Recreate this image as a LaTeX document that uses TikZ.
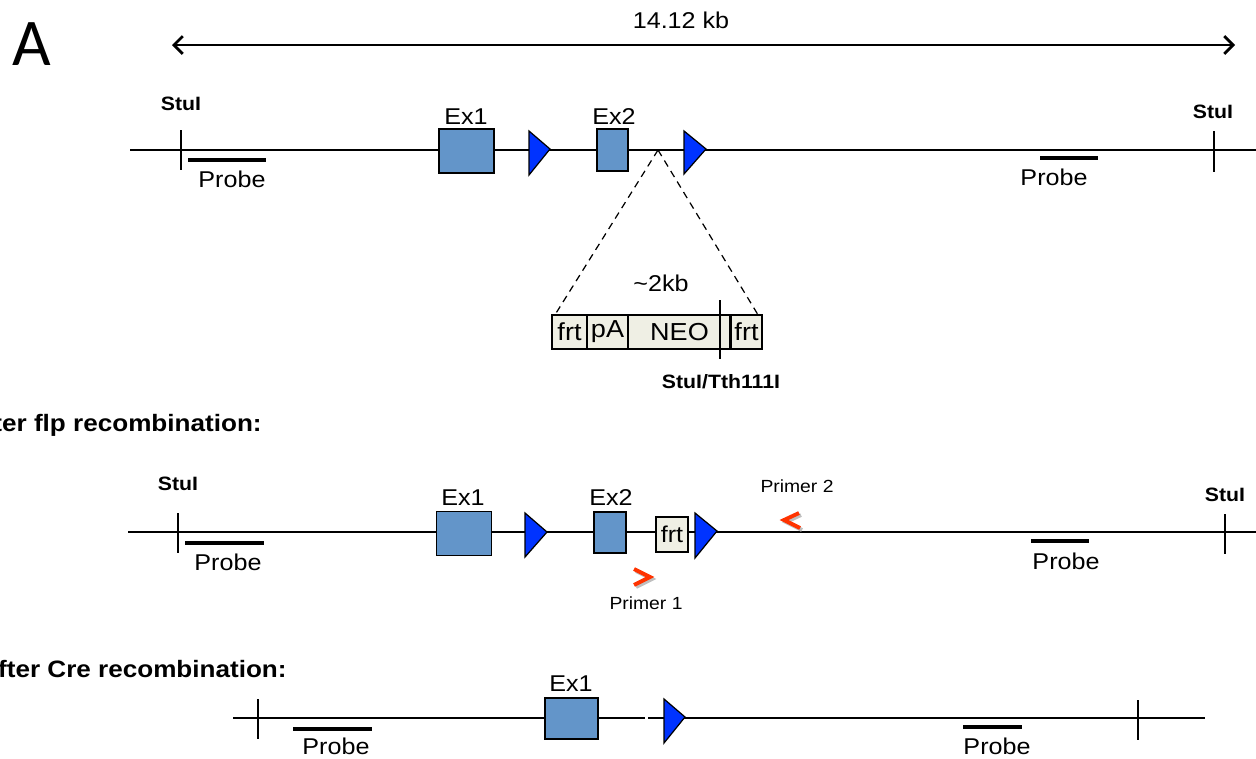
\documentclass[tikz,border=0pt]{standalone}
\usepackage{fontspec}
\setmainfont[FakeStretch=1.1]{Liberation Sans}
\newfontfamily\bigA{Carlito}
\usetikzlibrary{arrows.meta}
\definecolor{exonblue}{RGB}{99,149,201}
\definecolor{loxblue}{RGB}{0,51,255}
\definecolor{cassfill}{RGB}{239,239,228}
\definecolor{primred}{RGB}{255,51,0}
\begin{document}
\begin{tikzpicture}[x=0.02cm,y=-0.02cm,
  dna/.style={line width=0.8pt},
  tick/.style={line width=0.9pt},
  probebar/.style={line width=2.4pt},
  exon/.style={draw,line width=0.9pt,fill=exonblue,inner sep=0pt},
  loxp/.style={draw,line width=0.7pt,fill=loxblue,line join=miter},
  cass/.style={draw,line width=0.8pt,fill=cassfill,inner sep=0pt,minimum height=34*0.02cm,font=\fontsize{14}{16}\selectfont},
  probelbl/.style={font=\fontsize{13}{15}\selectfont,inner sep=0pt},
  exlbl/.style={font=\fontsize{13}{15}\selectfont,inner sep=0pt},
  stulbl/.style={font=\bfseries\fontsize{11}{13}\selectfont,inner sep=0pt},
  primlbl/.style={font=\fontsize{10}{12}\selectfont,inner sep=0pt},
  heading/.style={font=\bfseries\fontsize{13.5}{16}\selectfont,inner sep=0pt},
  primer/.style={line width=2.2pt,primred,line join=miter,line cap=butt},
  primshadow/.style={line width=2.2pt,black!25,line join=miter},
  dashedline/.style={line width=0.7pt,dash pattern=on 4pt off 3pt}
]
\useasboundingbox (0,0) rectangle (1256,758);

% ---------- panel letter and scale bar
\node[inner sep=0pt,font=\bigA\fontsize{38}{40}\selectfont] (letterA) at (32,44) {A};
\coordinate (sbL) at (172,45);
\coordinate (sbR) at (1235,45);
\draw[line width=1pt,{Straight Barb[length=5pt,width=10pt,line width=1.6pt]}-{Straight Barb[length=5pt,width=10pt,line width=1.6pt]}] (sbL) -- (sbR);
\node[inner sep=0pt,font=\fontsize{13}{15}\selectfont] (kb) at (681,20) {14.12 kb};

% ---------- row 1 (targeted allele)
\coordinate (r1L) at (130,150);
\coordinate (r1R) at (1256,150);
\draw[dna] (r1L) -- (r1R);
\draw[tick] (181,130) coordinate (t1a) -- (181,170) coordinate (t1b);
\draw[tick] (1214,131) coordinate (t2a) -- (1214,172) coordinate (t2b);
\node[stulbl] (stu1) at (181,104) {StuI};
\node[stulbl] (stu2) at (1213,112) {StuI};
\draw[probebar] (188,160) coordinate (p1a) -- (266,160) coordinate (p1b);
\node[probelbl] (pr1) at (232,179) {Probe};
\draw[probebar] (1040,158) coordinate (p2a) -- (1098,158) coordinate (p2b);
\node[probelbl] (pr2) at (1054,177) {Probe};
\node[exon,minimum width=55*0.02cm,minimum height=44*0.02cm] (e1) at (466.5,151) {};
\node[exlbl] (e1l) at (466,117) {Ex1};
\path[loxp] (529,131) -- (550,149) -- (529,175) -- cycle;
\node[exon,minimum width=31*0.02cm,minimum height=42*0.02cm] (e2) at (612.5,150) {};
\node[exlbl] (e2l) at (614,117) {Ex2};
\path[loxp] (684,131) -- (706,149) -- (684,174) -- cycle;

% insertion cassette
\coordinate (apex) at (658,150);
\node[cass,minimum width=35*0.02cm] (frtA) at (569.5,332) {frt};
\node[cass,minimum width=41*0.02cm] (pA) at (607.5,332) {pA};
\node[cass,minimum width=103*0.02cm] (neo) at (679.5,332) {NEO};
\node[cass,minimum width=31*0.02cm] (frtB) at (746.5,332) {frt};
\draw[line width=1.4pt] (frtB.north west) -- (frtB.south west);
\draw[tick] (720,300) coordinate (cutA) -- (720,359) coordinate (cutB);
\draw[dashedline] (apex) -- ([xshift=4*0.02cm]frtA.north west);
\draw[dashedline] (apex) -- ([xshift=-5*0.02cm]frtB.north east);
\node[inner sep=0pt,font=\fontsize{13}{15}\selectfont] (twokb) at (661,283) {\textasciitilde2kb};
\node[stulbl] (stutth) at (721,382) {StuI/Tth111I};

% ---------- row 2 (after flp)
\node[heading,anchor=base east] (h2) at (262,431) {ter flp recombination:};
\coordinate (r2L) at (128,532);
\coordinate (r2R) at (1256,532);
\draw[dna] (r2L) -- (r2R);
\draw[tick] (178,513) coordinate (t3a) -- (178,553) coordinate (t3b);
\draw[tick] (1225,514) coordinate (t4a) -- (1225,554) coordinate (t4b);
\node[stulbl] (stu3) at (178,484) {StuI};
\node[stulbl] (stu4) at (1225,495) {StuI};
\draw[probebar] (185,543) coordinate (p3a) -- (264,543) coordinate (p3b);
\node[probelbl] (pr3) at (228,562) {Probe};
\draw[probebar] (1031,541) coordinate (p4a) -- (1089,541) coordinate (p4b);
\node[probelbl] (pr4) at (1066,561) {Probe};
\node[exon,minimum width=55*0.02cm,minimum height=44*0.02cm] (e3) at (464,533.5) {};
\node[exlbl] (e3l) at (463,498) {Ex1};
\path[loxp] (525,513) -- (547,532) -- (525,557) -- cycle;
\node[exon,minimum width=32*0.02cm,minimum height=41*0.02cm] (e4) at (610,532.5) {};
\node[exlbl] (e4l) at (611,498) {Ex2};
\node[cass,minimum width=32*0.02cm,minimum height=35*0.02cm,font=\fontsize{13}{15}\selectfont] (frtC) at (672,534.5) {frt};
\path[loxp] (695,513) -- (717,531) -- (695,558) -- cycle;
% primers
\draw[primshadow] (801,515) -- (786,522) -- (802,530);
\draw[primer] (799,513) -- (784,520) -- (800,528);
\node[primlbl] (pm2) at (797,486) {Primer 2};
\draw[primshadow] (636,571) -- (652,579) -- (636,587);
\draw[primer] (634,569) -- (650,577) -- (634,585);
\node[primlbl] (pm1) at (646,603) {Primer 1};

% ---------- row 3 (after Cre)
\node[heading,anchor=base east] (h3) at (287,677) {fter Cre recombination:};
\coordinate (r3L) at (233,718);
\coordinate (r3gapA) at (645,718);
\coordinate (r3gapB) at (648,718);
\coordinate (r3R) at (1205,718);
\draw[dna] (r3L) -- (r3gapA);
\draw[dna] (r3gapB) -- (r3R);
\draw[tick] (258,699) coordinate (t5a) -- (258,739) coordinate (t5b);
\draw[tick] (1138,700) coordinate (t6a) -- (1138,740) coordinate (t6b);
\draw[probebar] (293,729) coordinate (p5a) -- (372,729) coordinate (p5b);
\node[probelbl] (pr5) at (336,746) {Probe};
\draw[probebar] (963,727) coordinate (p6a) -- (1022,727) coordinate (p6b);
\node[probelbl] (pr6) at (997,746) {Probe};
\node[exon,minimum width=53*0.02cm,minimum height=41*0.02cm] (e5) at (571.5,718.5) {};
\node[exlbl] (e5l) at (571,684) {Ex1};
\path[loxp] (664,699) -- (685,717) -- (664,743) -- cycle;
\end{tikzpicture}
\end{document}
